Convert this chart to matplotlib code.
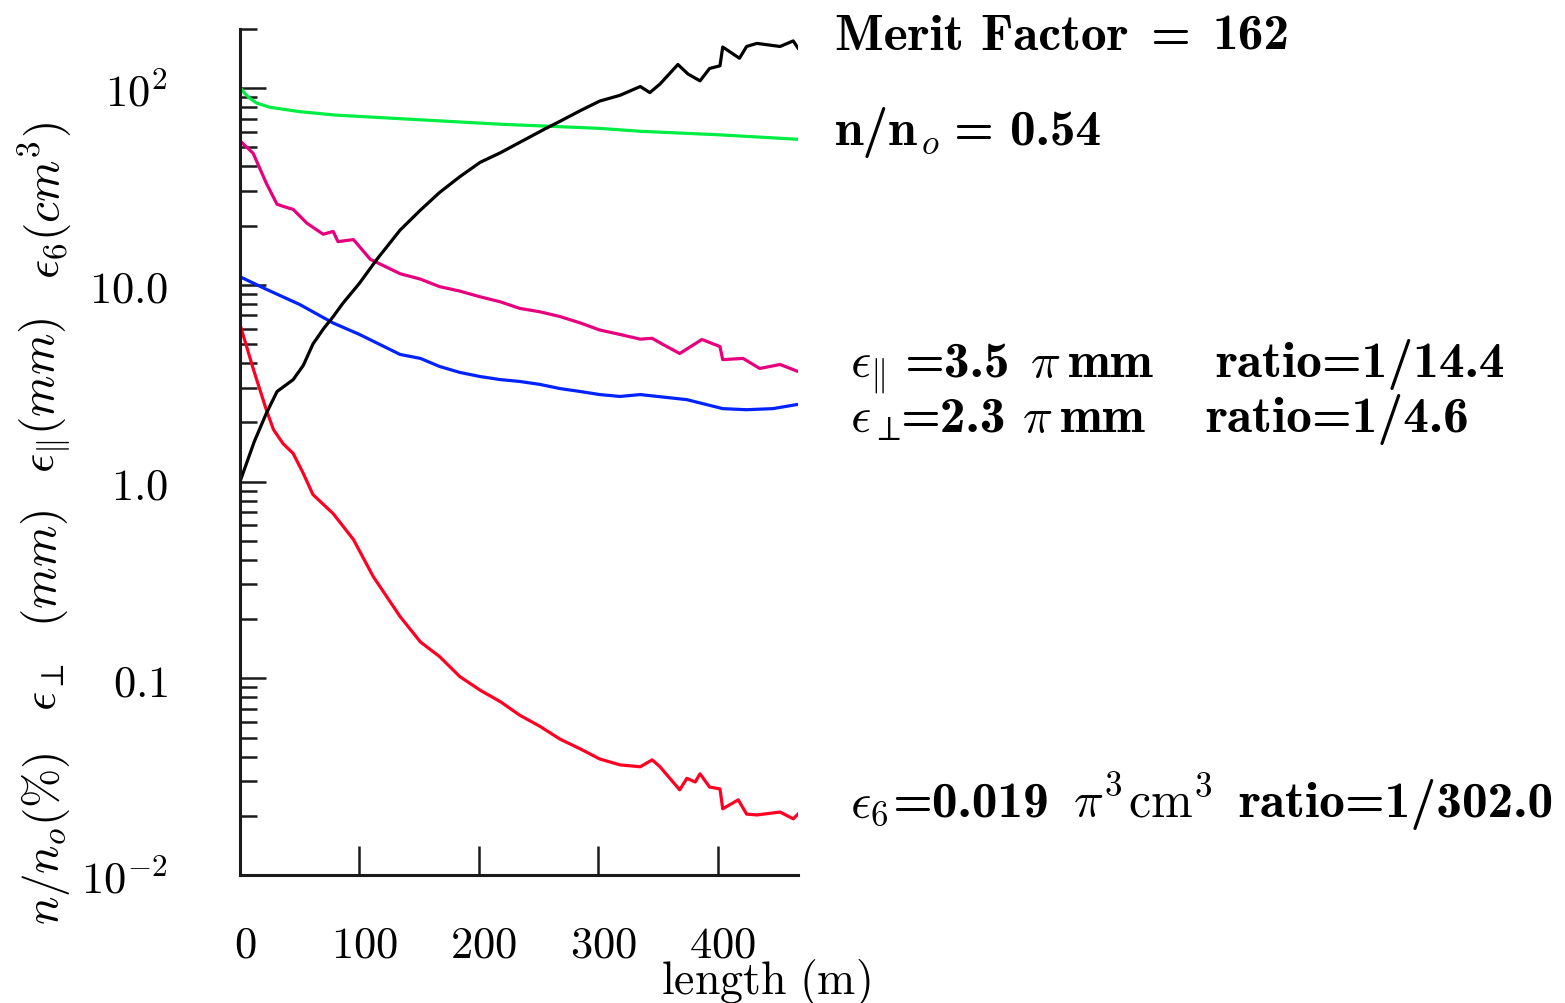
import numpy as np
import matplotlib
matplotlib.use("Agg")
import matplotlib.pyplot as plt
from matplotlib.transforms import ScaledTranslation

plt.rcParams['mathtext.fontset'] = 'cm'
plt.rcParams['font.family'] = ['DejaVu Serif']

# ---------------- data ----------------
# black: merit factor
x_merit = [0, 12, 22, 31, 44.5, 53, 61, 70, 78, 86, 100, 114.6, 134, 151, 167, 184, 201,
           218, 234, 255, 268, 285, 301, 318, 335, 343, 351.5, 366.5, 375, 385, 393,
           401.7, 404, 418, 424, 432.6, 452, 463, 467]
y_merit = [1.0, 1.6, 2.22, 2.87, 3.3, 3.9, 5.0, 6.0, 6.9, 8.05, 10.2, 13.5, 19.0, 24, 29.5, 35.5, 42,
           47, 53, 62, 68, 77, 86, 92, 102, 95, 105, 132, 118, 109, 126,
           130, 162, 142, 163, 169, 163, 174, 160]

# green: n/n_o (%)
x_trans = [0, 4, 8, 14, 25, 50, 80, 134, 218, 301, 335, 400, 467]
y_trans = [101, 94, 89, 84, 80, 76, 73, 70, 65.6, 62.5, 60.4, 58, 55]

# magenta: eps_parallel (mm)
x_epar = [0, 11, 22, 31, 36, 44.5, 56, 69.6, 78, 82, 95, 109, 134, 151, 167, 184, 201,
          218, 234, 251, 268, 285, 301, 318, 335, 345, 354, 368, 386.6, 401.7, 404,
          421, 435, 452, 467]
y_epar = [54, 46.7, 32.9, 25.7, 25.1, 24.2, 20.6, 18.1, 18.7, 16.6, 17, 13.5, 11.4, 10.7,
          9.8, 9.3, 8.7, 8.2, 7.6, 7.3, 6.9, 6.4, 5.9, 5.6, 5.3, 5.35, 4.98, 4.48, 5.28,
          4.86, 4.17, 4.23, 3.76, 3.94, 3.63]

# blue: eps_perp (mm)
x_eperp = [0, 22, 50, 78, 100, 134, 151, 167, 184, 201, 218, 234, 251, 268, 285, 301,
           318, 335, 374, 404, 424, 446, 467]
y_eperp = [11.0, 9.5, 7.95, 6.4, 5.6, 4.43, 4.23, 3.85, 3.59, 3.42, 3.30, 3.23, 3.12,
           2.97, 2.87, 2.77, 2.71, 2.77, 2.61, 2.35, 2.32, 2.35, 2.47]

# red: eps_6 (cm^3)
x_e6 = [0, 11, 22, 28, 36, 44.5, 53, 61, 78, 95, 111.5, 134, 151, 167, 184, 201, 218,
        234, 251, 268, 285, 301, 318, 335, 345, 351.5, 368, 374, 381, 385, 393, 401.7,
        404, 417, 424, 432.6, 452, 463, 467]
y_e6 = [6.3, 3.76, 2.32, 1.84, 1.56, 1.39, 1.1, 0.86, 0.687, 0.507, 0.329, 0.206, 0.153,
        0.129, 0.102, 0.087, 0.076, 0.065, 0.057, 0.049, 0.0437, 0.0389, 0.0363, 0.0355,
        0.0385, 0.0355, 0.0271, 0.031, 0.0297, 0.0327, 0.028, 0.0274, 0.0217, 0.0241,
        0.0204, 0.0202, 0.0209, 0.0193, 0.0204]

series = [
    (x_trans, y_trans, '#00ee44'),
    (x_epar, y_epar, '#e6007e'),
    (x_eperp, y_eperp, '#0022ff'),
    (x_e6, y_e6, '#ff0022'),
    (x_merit, y_merit, 'black'),
]

yticks = [0.01, 0.1, 1.0, 10.0, 100.0]
ytick_labels = [r'$10^{-2}$', r'$\mathrm{0.1}$', r'$\mathrm{1.0}$', r'$\mathrm{10.0}$', r'$10^{2}$']
xticks = [0, 100, 200, 300, 400]
xtick_labels = [r'$\mathrm{0}$', r'$\mathrm{100}$', r'$\mathrm{200}$', r'$\mathrm{300}$', r'$\mathrm{400}$']

# ---------------- figure ----------------
W, H = 1565, 1004
fig = plt.figure(figsize=(W / 100, H / 100), dpi=100)
ax = fig.add_axes([240 / W, 1 - 876 / H, (798 - 240) / W, (876 - 30) / H])

for xs, ys, c in series:
    ax.plot(xs, ys, color=c, lw=2.3)

ax.set_yscale('log')
ax.set_xlim(0, 467)
ax.set_ylim(0.01, 200)

ax.spines['top'].set_visible(False)
ax.spines['right'].set_visible(False)
for s in ('left', 'bottom'):
    ax.spines[s].set_linewidth(2.2)
    ax.spines[s].set_color('#1a1a1a')

ax.set_yticks(yticks)
ax.set_yticklabels(ytick_labels)
ax.set_xticks(xticks)
ax.set_xticklabels(xtick_labels)
ax.tick_params(axis='y', which='major', direction='in', length=19, width=1.8,
               labelsize=32, pad=52, colors='#1a1a1a', labelcolor='black')
ax.tick_params(axis='y', which='minor', direction='in', length=12, width=1.8,
               colors='#1a1a1a')
ax.tick_params(axis='x', which='major', direction='in', length=21, width=1.8,
               labelsize=32, pad=34, colors='#1a1a1a', labelcolor='black')
ax.tick_params(axis='x', which='minor', bottom=False)

off = ScaledTranslation(5 / 100, 0, fig.dpi_scale_trans)
for lab in ax.get_xticklabels():
    lab.set_transform(lab.get_transform() + off)

# y-axis label pieces
ylab_parts = [r'$n/n_o(\%)$', r'$\epsilon_\perp\ \ (mm)$', r'$\epsilon_\|(mm)$', r'$\epsilon_6(cm^3)$']
ylab_y = [839, 610, 395, 200]
for txt, yy in zip(ylab_parts, ylab_y):
    fig.text(45 / W, 1 - yy / H, txt, rotation=90, ha='center', va='center', fontsize=34)

fig.text(766 / W, 1 - 983 / H, r'$\mathrm{length\ (m)}$', ha='center', va='center', fontsize=33)

# right-hand annotations: pieces placed at (x, baseline)
B = dict(fontfamily='cmb10', fontsize=37)
M = dict(fontsize=36)
notes = [
    (835, 50, 'Merit Factor', B), (1150, 50, '=', B), (1213, 50, '162', B),
    (835, 145, 'n/n', B), (919, 145, r'${}_{o}$', M), (953, 145, '=', B), (1010, 145, '0.54', B),
    (850, 377, r'$\epsilon_{\|}$', M), (904, 377, '=3.5', B), (1030, 377, r'$\pi$', M),
    (1068, 377, 'mm', B), (1215, 377, 'ratio=1/14.4', B),
    (850, 432, r'$\epsilon_{\perp}$', M), (900, 432, '=2.3', B), (1022, 432, r'$\pi$', M),
    (1060, 432, 'mm', B), (1205, 432, 'ratio=1/4.6', B),
    (850, 817, r'$\epsilon_{6}$', M), (892, 817, '=0.019', B), (1073, 817, r'$\pi^{3}$', M),
    (1128, 817, r'$\mathrm{cm}^{3}$', M), (1238, 817, 'ratio=1/302.0', B),
]
for xx, yy, txt, p in notes:
    fig.text(xx / W, 1 - yy / H, txt, ha='left', va='baseline', **p)

fig.savefig('out.png', dpi=100)
